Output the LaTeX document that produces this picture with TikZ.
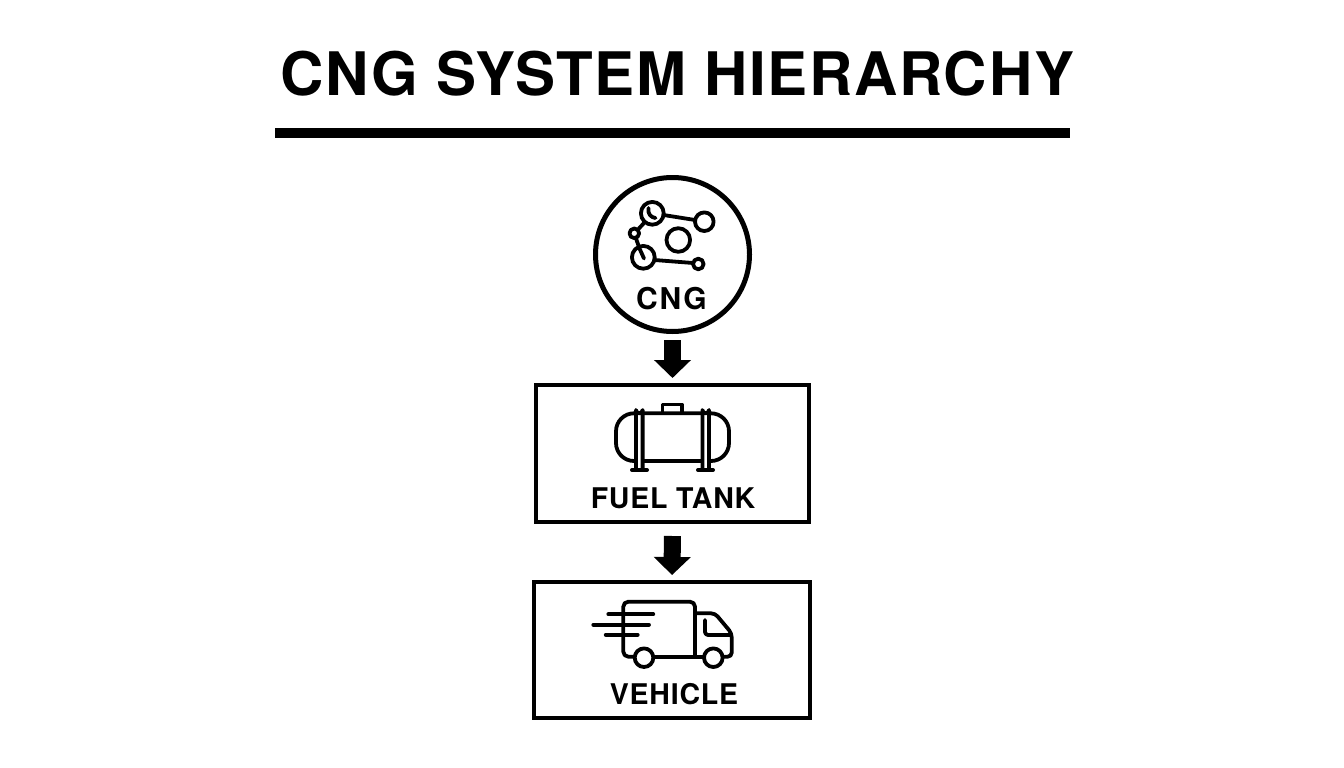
\documentclass[tikz,border=0pt]{standalone}
\usepackage{fontspec}
\setmainfont[LetterSpace=2.7]{TeX Gyre Heros}
\usetikzlibrary{arrows.meta}
\tikzset{%
  stage/.style={draw, line width=4pt, minimum width=#1, inner sep=0pt},
  source/.style={draw, circle, line width=5pt, minimum size=154pt, inner sep=0pt},
  flow/.style={line width=17pt, -{Triangle[length=18pt,width=36pt]}, shorten <=#1, shorten >=5pt},
  icon/.style={line width=3.8pt, line join=round, line cap=round},
  caption/.style={font=\bfseries\fontsize{#1}{#1}\selectfont, inner sep=0pt}
}

\begin{document}
\begin{tikzpicture}[x=1pt, y=-1pt]
    \useasboundingbox (0,0) rectangle (1344,768);

    \node [caption=60pt] (title) at (677.5,73.5) {CNG SYSTEM HIERARCHY};
    \fill (275,128) rectangle (1070,138);

    \node [source] (cng) at (672.5,254.5) {};
    \node [stage=273pt, minimum height=137pt] (tank) at (672.5,453.5) {};
    \node [stage=276pt, minimum height=136pt] (vehicle) at (672,650) {};

    \draw [flow=6pt] (cng.south) -- (tank.north);
    \draw [flow=12pt] (tank.south) -- (vehicle.north);

    \node [caption=30pt] (cnglabel) at (671.5,298.5) {\addfontfeature{LetterSpace=6}CNG};
    \node [caption=28.5pt] (tanklabel) at (673,498) {FUEL TANK};
    \node [caption=28.5pt] (vehiclelabel) at (674,694) {VEHICLE};

    % molecule
    \draw [icon] (652.3,213.3) circle (11.4);
    \draw [icon] (704.3,221.7) circle (9.3);
    \draw [icon] (678.3,240) circle (11.8);
    \draw [icon] (634.3,233.3) circle (4.8);
    \draw [icon] (643.3,257.3) circle (11.4);
    \draw [icon] (698.3,264) circle (5.3);
    \draw [icon] (663.5,215) -- (695,220);
    \draw [icon] (654.5,260) -- (693,263);
    \draw [icon] (638,229.5) -- (644,223);
    \draw [icon] (636,238.5) -- (639,247);
    \draw [icon] (639.5,248.5) -- (644,258.5);
    \draw [icon] (648.5,208) .. controls (647.5,214) and (651,217.5) .. (655.5,218);

    % tank
    \draw [icon, rounded corners=18pt] (616,413.3) rectangle (729,461);
    \draw [icon] (662.5,413) -- (662.5,404.5) -- (682,404.5) -- (682,413);
    \draw [icon, fill=white] (636,468) -- (636,410) arc [start angle=180, end angle=0, radius=3.3] -- (642.6,468);
    \draw [icon, fill=white] (702.4,468) -- (702.4,410) arc [start angle=180, end angle=0, radius=3.3] -- (709,468);
    \draw [icon, line width=4pt] (632,470) -- (647,470);
    \draw [icon, line width=4pt] (698,470) -- (713,470);

    % truck
    \draw [icon, rounded corners=5pt] (634,656.7) -- (623.3,656.7) -- (623.3,601.7) -- (695,601.7) -- (695,656.7);
    \draw [icon, rounded corners=4pt] (695,613.3) -- (715,613.3) -- (731.7,633.3) -- (731.7,656.7) -- (722,656.7);
    \draw [icon] (653,656.7) -- (704,656.7);
    \draw [icon, rounded corners=3pt] (705,620) -- (705,635) -- (730,635);
    \draw [icon, fill=white] (644,657.7) circle (9.3);
    \draw [icon, fill=white] (713.3,657.7) circle (9.3);
    \draw [icon] (608.3,614.3) -- (653.3,614.3);
    \draw [icon] (593.3,624.7) -- (649,624.7);
    \draw [icon] (605.7,634.7) -- (637.7,634.7);
\end{tikzpicture}
\end{document}
